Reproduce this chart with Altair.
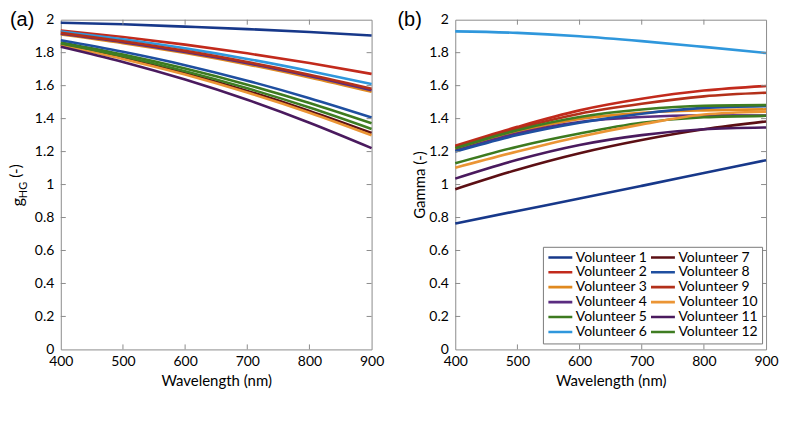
import altair as alt
import pandas as pd

# ---------------- data ----------------
wavelength = [400, 500, 600, 700, 800, 900]

names = ["Volunteer 1", "Volunteer 2", "Volunteer 3", "Volunteer 4", "Volunteer 5", "Volunteer 6",
         "Volunteer 7", "Volunteer 8", "Volunteer 9", "Volunteer 10", "Volunteer 11", "Volunteer 12"]

colors = ["#17388a", "#c22a1c", "#e0891f", "#5a2c80", "#3d7a1f", "#2f97dc",
          "#5c0f14", "#1f4fa0", "#b3301a", "#eb9535", "#4a1a5e", "#3f7d22"]
widths = [2.6, 2.6, 2.6, 1.4, 2.6, 2.6, 2.6, 2.6, 2.6, 1.4, 2.6, 2.6]

# panel (a): g_HG
g_v1 = [1.982, 1.972, 1.958, 1.943, 1.925, 1.904]
g_v2 = [1.934, 1.895, 1.849, 1.796, 1.737, 1.671]
g_v3 = [1.910, 1.858, 1.798, 1.729, 1.650, 1.563]
g_v4 = [1.915, 1.864, 1.804, 1.736, 1.658, 1.572]
g_v5 = [1.862, 1.789, 1.704, 1.606, 1.495, 1.372]
g_v6 = [1.929, 1.881, 1.826, 1.762, 1.689, 1.609]
g_v7 = [1.848, 1.768, 1.675, 1.568, 1.447, 1.313]
g_v8 = [1.875, 1.805, 1.724, 1.630, 1.524, 1.407]
g_v9 = [1.920, 1.869, 1.811, 1.743, 1.666, 1.581]
g_v10 = [1.843, 1.762, 1.667, 1.558, 1.436, 1.299]
g_v11 = [1.836, 1.744, 1.637, 1.514, 1.375, 1.221]
g_v12 = [1.855, 1.778, 1.688, 1.584, 1.467, 1.337]

# panel (b): Gamma
gm_v1 = [0.764, 0.840, 0.915, 0.992, 1.070, 1.148]
gm_v2 = [1.236, 1.350, 1.450, 1.520, 1.570, 1.598]
gm_v3 = [1.215, 1.320, 1.398, 1.435, 1.450, 1.456]
gm_v4 = [1.205, 1.310, 1.380, 1.410, 1.420, 1.418]
gm_v5 = [1.129, 1.230, 1.310, 1.375, 1.408, 1.417]
gm_v6 = [1.929, 1.920, 1.900, 1.870, 1.835, 1.798]
gm_v7 = [0.972, 1.090, 1.190, 1.270, 1.335, 1.383]
gm_v8 = [1.200, 1.300, 1.375, 1.430, 1.465, 1.476]
gm_v9 = [1.230, 1.340, 1.430, 1.490, 1.535, 1.557]
gm_v10 = [1.102, 1.200, 1.290, 1.365, 1.425, 1.442]
gm_v11 = [1.036, 1.150, 1.240, 1.300, 1.335, 1.346]
gm_v12 = [1.220, 1.330, 1.410, 1.455, 1.478, 1.482]

g_series = [g_v1, g_v2, g_v3, g_v4, g_v5, g_v6, g_v7, g_v8, g_v9, g_v10, g_v11, g_v12]
gm_series = [gm_v1, gm_v2, gm_v3, gm_v4, gm_v5, gm_v6, gm_v7, gm_v8, gm_v9, gm_v10, gm_v11, gm_v12]

x_ticks = [400, 500, 600, 700, 800, 900]
y_ticks = [0, 0.2, 0.4, 0.6, 0.8, 1, 1.2, 1.4, 1.6, 1.8, 2]
inner_x_ticks = [500, 600, 700, 800]
inner_y_ticks = [0.2, 0.4, 0.6, 0.8, 1, 1.2, 1.4, 1.6, 1.8]

# ---------------- layout constants ----------------
W, H = 312, 331
FONT = "Lato"
AXIS_GRAY = "#8c8c8c"
TICK = 5


def long_table(series):
    rows = []
    for k, (n, vals) in enumerate(zip(names, series)):
        for wl, v in zip(wavelength, vals):
            rows.append({"vol": n, "k": k, "wl": wl, "val": v})
    return pd.DataFrame(rows)


x_scale = alt.Scale(domain=[400, 900], nice=False, zero=False)
y_scale = alt.Scale(domain=[0, 2], nice=False)


def panel(series, label, ytitle, show_legend):
    df = long_table(series)
    xaxis = alt.Axis(values=x_ticks, title="Wavelength (nm)", ticks=False, domain=False,
                     grid=False, labelPadding=5, titlePadding=5, labelFlush=False)
    yaxis = alt.Axis(values=y_ticks, format="~g", title=ytitle if ytitle else "",
                     ticks=False, domain=False, grid=False, labelPadding=7, titlePadding=1,
                     labelFlush=False)
    if show_legend:
        leg = alt.Legend(title=None, orient="none", legendX=88, legendY=228, columns=2,
                         symbolType="stroke", symbolSize=576, clipHeight=13,
                         labelFontSize=14, labelFont=FONT, labelColor="black",
                         rowPadding=0, columnPadding=2, labelOffset=2,
                         strokeColor="#7a7a7a", fillColor="white", padding=4, labelLimit=200)
    else:
        leg = None
    color = alt.Color("vol:N", scale=alt.Scale(domain=names, range=colors), legend=leg)
    sw = alt.StrokeWidth("vol:N", scale=alt.Scale(domain=names, range=widths), legend=leg)
    lines = alt.Chart(df).mark_line(interpolate="monotone").encode(
        x=alt.X("wl:Q", scale=x_scale, axis=xaxis),
        y=alt.Y("val:Q", scale=y_scale, axis=yaxis),
        color=color,
        strokeWidth=sw,
        order=alt.Order("k:Q"),
        detail="vol:N",
    )
    xt = pd.DataFrame({"wl": inner_x_ticks})
    yt = pd.DataFrame({"val": inner_y_ticks})
    tb = alt.Chart(xt).mark_rule(color=AXIS_GRAY, strokeWidth=1).encode(
        x=alt.X("wl:Q", scale=x_scale, axis=xaxis), y=alt.value(H), y2=alt.value(H - TICK))
    tt = alt.Chart(xt).mark_rule(color=AXIS_GRAY, strokeWidth=1).encode(
        x=alt.X("wl:Q", scale=x_scale, axis=xaxis), y=alt.value(0), y2=alt.value(TICK))
    tl = alt.Chart(yt).mark_rule(color=AXIS_GRAY, strokeWidth=1).encode(
        y=alt.Y("val:Q", scale=y_scale, axis=yaxis), x=alt.value(0), x2=alt.value(TICK))
    tr = alt.Chart(yt).mark_rule(color=AXIS_GRAY, strokeWidth=1).encode(
        y=alt.Y("val:Q", scale=y_scale, axis=yaxis), x=alt.value(W - TICK), x2=alt.value(W))
    lab = alt.Chart(pd.DataFrame({"t": [label]})).mark_text(
        font="Liberation Sans", fontSize=20, align="left", baseline="top", color="black"
    ).encode(text="t:N", x=alt.value(-51 if label == "(a)" else -58), y=alt.value(-10))
    return [lines, tb, tt, tl, tr, lab]


left_layers = panel(g_series, "(a)", None, False)
# custom y title for panel (a): g with subscript HG
g_main = alt.Chart(pd.DataFrame({"t": ["g"]})).mark_text(
    font=FONT, fontSize=16, angle=270, align="center", baseline="alphabetic", color="black"
).encode(text="t:N", x=alt.value(-38), y=alt.value(183))
g_sub = alt.Chart(pd.DataFrame({"t": ["HG"]})).mark_text(
    font=FONT, fontSize=11, angle=270, align="center", baseline="alphabetic", color="black"
).encode(text="t:N", x=alt.value(-34), y=alt.value(171))
g_unit = alt.Chart(pd.DataFrame({"t": ["(-)"]})).mark_text(
    font=FONT, fontSize=15, angle=270, align="center", baseline="alphabetic", color="black"
).encode(text="t:N", x=alt.value(-40), y=alt.value(152))

left = alt.layer(*left_layers, g_main, g_sub, g_unit).properties(width=W, height=H)
right = alt.layer(*panel(gm_series, "(b)", "Gamma (-)", True)).properties(width=W, height=H)

chart = alt.hconcat(left, right, spacing=12).resolve_scale(
    color="independent", strokeWidth="independent"
).configure(padding=0).configure_view(
    stroke=AXIS_GRAY, strokeWidth=1
).configure_axis(
    labelFont=FONT, labelFontSize=14, labelColor="black",
    titleFont=FONT, titleFontSize=15, titleFontWeight="normal", titleColor="black"
)

chart.save("out.html", embed_options={"renderer": "svg", "actions": False})
